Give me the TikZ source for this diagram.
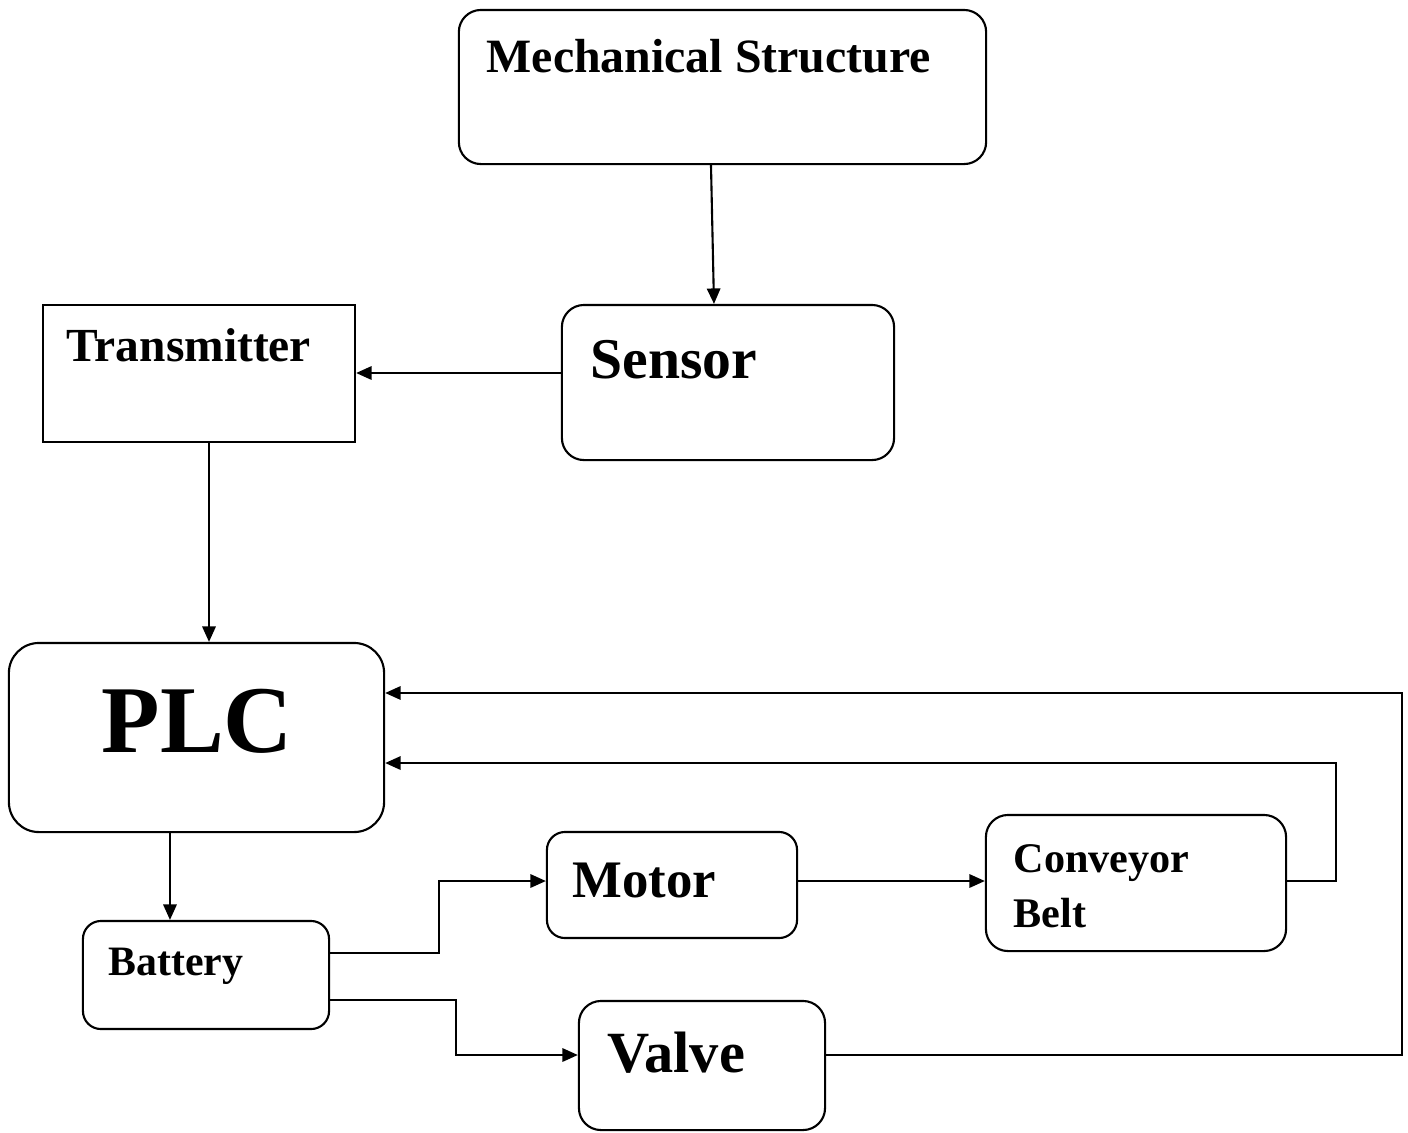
\documentclass[tikz,border=0pt]{standalone}
\usepackage{fontspec}
\setmainfont{Liberation Serif}
\usetikzlibrary{arrows.meta}

\tikzset{
  box/.style={draw, line width=0.6pt, rounded corners=0.22cm, inner sep=0pt},
  lbl/.style={anchor=base west, inner sep=0pt, font=\bfseries\fontsize{#1}{#1}\selectfont},
  arr/.style={line width=0.6pt, -{Triangle[length=4.4pt,width=3.8pt]}},
  wire/.style={line width=0.6pt}
}

\begin{document}
\begin{tikzpicture}[x=0.01cm,y=-0.01cm]
\useasboundingbox (0,0) rectangle (1408,1132);

% blocks
\node[box, minimum width=5.27cm, minimum height=1.54cm] (mech) at (722.5,87) {};
\node[box, minimum width=3.32cm, minimum height=1.55cm] (sensor) at (728,382.5) {};
\node[box, rounded corners=0pt, minimum width=3.12cm, minimum height=1.37cm] (trans) at (199,373.5) {};
\node[box, rounded corners=0.3cm, minimum width=3.75cm, minimum height=1.89cm] (plc) at (196.5,737.5) {};
\node[box, rounded corners=0.18cm, minimum width=2.46cm, minimum height=1.08cm] (battery) at (206,975) {};
\node[box, rounded corners=0.18cm, minimum width=2.50cm, minimum height=1.06cm] (motor) at (672,885) {};
\node[box, minimum width=3.00cm, minimum height=1.36cm] (conveyor) at (1136,883) {};
\node[box, minimum width=2.46cm, minimum height=1.29cm] (valve) at (702,1065.5) {};

% labels
\node[lbl=13.6pt] (mech-t) at (486,72) {Mechanical Structure};
\node[lbl=16.4pt] (sensor-t) at (590,378) {Sensor};
\node[lbl=13.5pt] (trans-t) at (66,361) {Transmitter};
\node[lbl=27.2pt] (plc-t) at (101,752) {PLC};
\node[lbl=11.9pt] (battery-t) at (108,975) {Battery};
\node[lbl=15pt] (motor-t) at (572,897) {Motor};
\node[lbl=12pt, align=left] (conveyor-t) at (1013,927) {Conveyor\\[3.5pt]Belt};
\node[lbl=16.6pt] (valve-t) at (607,1072) {Valve};

% connections
\draw[arr] ([xshift=-0.115cm]mech.south) -- ([xshift=-0.14cm]sensor.north);
\draw[arr] ([yshift=0.005cm]sensor.west |- trans.east) -- ([yshift=0.005cm]trans.east);
\draw[arr] ([xshift=0.1cm]trans.south) -- ([xshift=0.1cm]trans.south |- plc.north);
\draw[arr] ([xshift=-0.265cm]plc.south) -- ([xshift=-0.265cm]plc.south |- battery.north);
\draw[arr] ([yshift=0.22cm]battery.east) -- ++(109,0) |- ([yshift=0.04cm]motor.west);
\draw[arr] ([yshift=-0.25cm]battery.east) -- ++(126,0) |- ([yshift=0.105cm]valve.west);
\draw[arr] ([yshift=0.04cm]motor.east) -- ([yshift=0.04cm]motor.east -| conveyor.west);
\draw[arr] ([yshift=0.02cm]conveyor.east) -- ++(49,0) |- ([yshift=-0.255cm]plc.east);
\draw[arr] ([yshift=0.105cm]valve.east) -- ++(576,0) |- ([yshift=0.445cm]plc.east);

\end{tikzpicture}
\end{document}
